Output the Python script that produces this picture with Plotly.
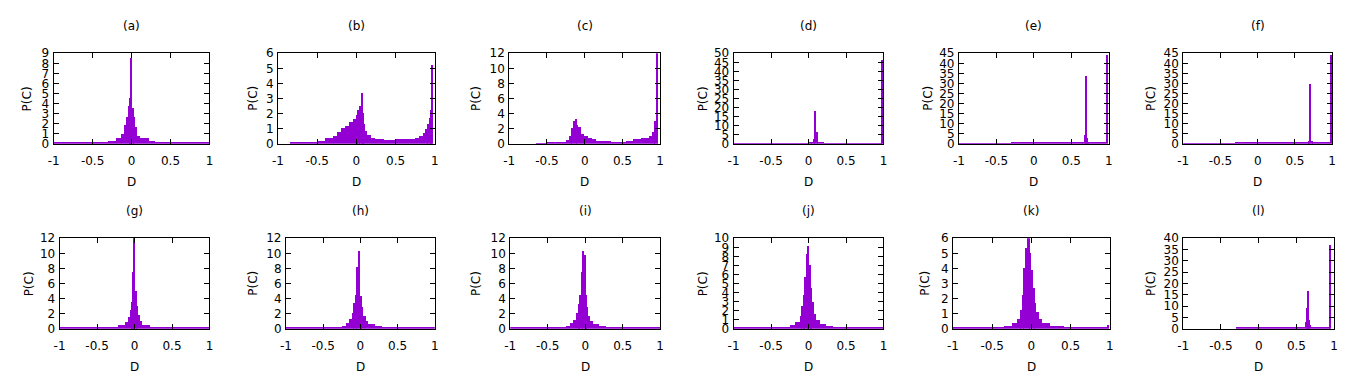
import plotly.graph_objects as go

# ---------------- data: histogram bin edges and heights P(C) per panel ----------------
labels = ["(a)", "(b)", "(c)", "(d)", "(e)", "(f)", "(g)", "(h)", "(i)", "(j)", "(k)", "(l)"]

edges_a = [-1, -0.31, -0.21, -0.14, -0.1, -0.07, -0.05, -0.03, -0.015, 0.005, 0.02, 0.04, 0.07, 0.11, 0.22, 0.3, 1.0]
heights_a = [0.15, 0.3, 0.55, 1.0, 1.8, 2.6, 3.7, 4.5, 8.5, 3.5, 2.6, 1.6, 0.8, 0.55, 0.3, 0.15]

edges_b = [-0.85, -0.6, -0.5, -0.4, -0.3, -0.25, -0.2, -0.15, -0.1, -0.05, 0.0, 0.02, 0.04, 0.06, 0.075,
           0.09, 0.11, 0.14, 0.18, 0.24, 0.35, 0.5, 0.65, 0.75, 0.8, 0.85, 0.88, 0.91, 0.93, 0.945, 0.958, 0.98]
heights_b = [0.08, 0.12, 0.2, 0.35, 0.5, 0.75, 1.0, 1.15, 1.4, 1.65, 1.9, 2.2, 2.5, 3.35, 2.0, 1.3, 0.85,
             0.55, 0.38, 0.3, 0.27, 0.3, 0.33, 0.38, 0.5, 0.7, 0.95, 1.3, 1.7, 2.2, 5.2]

edges_c = [-0.64, -0.5, -0.3, -0.25, -0.2, -0.17, -0.15, -0.13, -0.1, -0.08, -0.04, 0.0, 0.05, 0.1, 0.15,
           0.25, 0.35, 0.55, 0.65, 0.75, 0.85, 0.9, 0.93, 0.945, 0.975]
heights_c = [0.05, 0.1, 0.2, 0.5, 1.0, 2.0, 3.0, 3.3, 2.5, 2.2, 1.3, 1.0, 0.8, 0.6, 0.4, 0.3, 0.2, 0.4,
             0.6, 0.75, 1.0, 1.6, 3.0, 13.0]

edges_d = [-1, 0.0, 0.04, 0.06, 0.08, 0.1, 0.11, 0.12, 0.2, 0.973, 0.991]
heights_d = [0.25, 0.4, 1.0, 2.5, 18.0, 6.2, 1.0, 0.4, 0.25, 46.0]

edges_e = [-1, -0.3, 0.65, 0.672, 0.683, 0.696, 0.71, 0.725, 0.965, 0.987]
heights_e = [0.1, 0.3, 0.8, 4.5, 33.5, 3.0, 1.0, 0.3, 44.0]

edges_f = [-1, -0.3, 0.69, 0.70, 0.725, 0.735, 0.975, 0.995]
heights_f = [0.1, 0.3, 1.5, 29.7, 1.5, 0.3, 44.0]

edges_g = [-1, -0.22, -0.13, -0.09, -0.065, -0.045, -0.03, -0.015, 0.005, 0.02, 0.04, 0.07, 0.1, 0.2, 1.0]
heights_g = [0.12, 0.45, 0.9, 1.6, 2.5, 3.5, 7.5, 12.0, 5.0, 3.0, 1.8, 1.0, 0.45, 0.12]

edges_h = [-1, -0.25, -0.2, -0.16, -0.115, -0.088, -0.071, -0.053, -0.031, -0.004, 0.018, 0.04, 0.071,
           0.106, 0.195, 0.283, 1.0]
heights_h = [0.15, 0.4, 0.7, 1.3, 2.1, 3.4, 4.5, 8.2, 10.3, 4.3, 2.8, 1.7, 1.0, 0.55, 0.3, 0.15]

edges_i = [-1, -0.25, -0.2, -0.16, -0.115, -0.085, -0.068, -0.05, -0.03, -0.012, 0.005, 0.02, 0.04, 0.07,
           0.105, 0.19, 0.28, 1.0]
heights_i = [0.15, 0.4, 0.7, 1.2, 2.0, 3.2, 4.5, 7.5, 10.3, 9.8, 4.5, 2.8, 1.7, 1.0, 0.55, 0.3, 0.15]

edges_j = [-1, -0.25, -0.18, -0.124, -0.093, -0.071, -0.053, -0.035, -0.013, 0.004, 0.022, 0.04, 0.062,
           0.093, 0.15, 0.226, 0.327, 1.0]
heights_j = [0.15, 0.45, 0.7, 1.4, 2.5, 3.75, 5.7, 8.2, 9.1, 7.0, 4.5, 2.9, 1.6, 0.9, 0.55, 0.25, 0.15]

edges_k = [-1, -0.35, -0.245, -0.181, -0.139, -0.118, -0.097, -0.076, -0.055, -0.021, 0.0, 0.021, 0.042,
           0.063, 0.093, 0.135, 0.24, 0.41, 0.96, 0.99]
heights_k = [0.08, 0.2, 0.35, 0.65, 1.2, 2.25, 4.0, 5.35, 6.1, 5.0, 3.85, 2.7, 1.7, 1.07, 0.65, 0.35, 0.2,
             0.1, 0.25]

edges_l = [-0.3, 0.619, 0.632, 0.65, 0.667, 0.68, 0.698, 0.943, 0.965]
heights_l = [0.3, 2.9, 9.3, 16.7, 3.9, 1.4, 0.3, 37.0]

y_max = [9, 6, 12, 50, 45, 45, 12, 12, 12, 10, 6, 40]
y_step = [1, 1, 2, 5, 5, 5, 2, 2, 2, 1, 1, 5]

x_tickvals = [-1, -0.5, 0, 0.5, 1]
x_ticktext = ["-1", "-0.5", "0", "0.5", "1"]

all_edges = [edges_a, edges_b, edges_c, edges_d, edges_e, edges_f,
             edges_g, edges_h, edges_i, edges_j, edges_k, edges_l]
all_heights = [heights_a, heights_b, heights_c, heights_d, heights_e, heights_f,
               heights_g, heights_h, heights_i, heights_j, heights_k, heights_l]

# ---------------- layout geometry (pixels) ----------------
W, H = 1358, 384
box_x = [(48, 205), (274, 432), (507, 659), (733, 884), (960, 1111), (1186, 1336),
         (54, 205), (282, 432), (508, 659), (733, 884), (954, 1112), (1186, 1338)]
box_y = [(48, 142)] * 6 + [(240, 334)] * 6
ylab_x = [21, 248, 473, 702, 928, 1153, 23, 248, 473, 702, 925, 1153]

COLOR = "#9400D3"
FONT = "DejaVu Sans"
FS = 12

fig = go.Figure()
annotations = []
layout = {}
for i in range(12):
    n = i + 1
    xa = "x" if n == 1 else f"x{n}"
    ya = "y" if n == 1 else f"y{n}"
    e = all_edges[i]
    h = all_heights[i]
    mids = [(e[k] + e[k + 1]) / 2 for k in range(len(h))]
    widths = [e[k + 1] - e[k] for k in range(len(h))]
    fig.add_trace(go.Bar(x=mids, y=h, width=widths, xaxis=xa, yaxis=ya,
                         marker=dict(color=COLOR, line=dict(width=0)),
                         showlegend=False, hoverinfo="x+y"))
    x0, x1 = box_x[i]
    y0, y1 = box_y[i]
    common = dict(showline=True, linecolor="black", linewidth=1, mirror="ticks",
                  ticks="inside", ticklen=5, tickcolor="black", tickwidth=1,
                  showgrid=False, zeroline=False,
                  tickfont=dict(family=FONT, size=FS, color="black"))
    layout["xaxis" if n == 1 else f"xaxis{n}"] = dict(
        domain=[x0 / W, x1 / W], anchor=ya, range=[-1, 1],
        tickmode="array", tickvals=x_tickvals, ticktext=x_ticktext,
        ticklabelstandoff=6, **common)
    layout["yaxis" if n == 1 else f"yaxis{n}"] = dict(
        domain=[1 - y1 / H, 1 - y0 / H], anchor=xa, range=[0, y_max[i]],
        tickmode="linear", tick0=0, dtick=y_step[i], ticklabelstandoff=1, **common)
    cx = (x0 + x1) / 2
    annotations.append(dict(text=labels[i], x=cx / W, y=1 - (y0 - 28) / H, xref="paper", yref="paper",
                            showarrow=False, xanchor="center", yanchor="middle",
                            font=dict(family=FONT, size=FS, color="black")))
    annotations.append(dict(text="D", x=cx / W, y=1 - (y1 + 40) / H, xref="paper", yref="paper",
                            showarrow=False, xanchor="center", yanchor="middle",
                            font=dict(family=FONT, size=FS, color="black")))
    annotations.append(dict(text="P(C)", x=ylab_x[i] / W, y=1 - ((y0 + y1) / 2) / H,
                            xref="paper", yref="paper", textangle=-90,
                            showarrow=False, xanchor="center", yanchor="middle",
                            font=dict(family=FONT, size=FS, color="black")))

fig.update_layout(width=W, height=H, margin=dict(l=0, r=0, t=0, b=0),
                  paper_bgcolor="white", plot_bgcolor="white",
                  bargap=0, annotations=annotations, **layout)

fig.write_html("out.html", config={"displayModeBar": False},
               post_script="document.body.style.margin='0';")
